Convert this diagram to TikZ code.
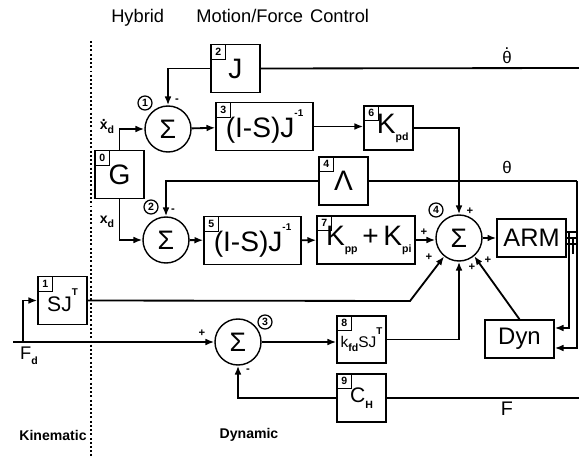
\documentclass[tikz,border=0pt]{standalone}
\usepackage{fontspec}
\setmainfont{Liberation Sans}
\usetikzlibrary{arrows.meta}
\newcommand\pu{0.025cm}
\newcommand\tdot[2]{\ooalign{#2\cr\hidewidth\raisebox{#1}{.}\hidewidth\cr}}
\newcommand\supr[1]{\raisebox{0.55em}{\fontsize{7}{7}\selectfont\bfseries#1}}
\newcommand\subr[1]{\raisebox{-0.25em}{\fontsize{7.5}{8}\selectfont\bfseries#1}}
\tikzset{
  >={Latex[length=2.2mm,width=1.7mm]},
  blk/.style={draw,line width=1pt,inner sep=0pt,minimum width=#1*\pu,minimum height=48*\pu,
    font=\fontsize{20}{20}\selectfont},
  blk/.default=49,
  sumn/.style={circle,draw,line width=1pt,inner sep=0pt,minimum size=46*\pu,
    font=\fontsize{19}{19}\selectfont},
  tagbox/.style={draw,line width=0.8pt,inner sep=0pt,minimum size=15*\pu,anchor=north west,
    font=\fontsize{7.5}{8}\selectfont\bfseries},
  cnum/.style={circle,draw,line width=0.9pt,inner sep=0pt,minimum size=14*\pu,
    font=\fontsize{7.5}{8}\selectfont\bfseries},
  sgn/.style={inner sep=0pt,font=\fontsize{8}{8}\selectfont\bfseries},
  sig/.style={inner sep=0pt,font=\fontsize{12}{12}\selectfont},
  wire/.style={line width=1.3pt},
  dotline/.style={line width=1.4pt,dash pattern=on 1.4pt off 1.6pt},
}
\begin{document}
\begin{tikzpicture}[x=0.025cm,y=-0.025cm]
  \useasboundingbox (0,0) rectangle (579,458);
  % titles
  \node[anchor=west,inner sep=0pt,font=\fontsize{13}{13}\selectfont] (title) at (111,18)
    {Hybrid\hspace{23pt}Motion/Force\hspace{5pt}Control};
  \node[font=\fontsize{10}{10}\selectfont\bfseries] (kin) at (53,435) {Kinematic};
  \node[font=\fontsize{10}{10}\selectfont\bfseries] (dyn) at (249,435) {Dynamic};
  \coordinate (dotT) at (91,41);
  \coordinate (dotB) at (91,458);
  \draw[dotline] (dotT) -- (dotB);

  % blocks
  \node[blk] (J) at (235.5,68.5) {J};
  \node[blk] (G) at (119.5,174.5) {\raisebox{-3pt}{G}};
  \node[blk=97] (IS1) at (264.5,126.5) {\raisebox{-4pt}{(I-S)J}\supr{-1}};
  \node[blk,minimum height=44*\pu] (Kpd) at (388.5,128) {\hspace{6pt}\raisebox{-3pt}{K\subr{pd}}};
  \node[blk] (Lam) at (343.5,181) {\raisebox{-3pt}{Λ}};
  \node[blk=97] (IS2) at (252.5,240.5) {\raisebox{-4pt}{(I-S)J}\supr{-1}};
  \node[blk=98] (Kpp) at (366,240) {\hspace{4pt}\raisebox{-4pt}{K\subr{pp}\,+\,K\subr{pi}}};
  \node[blk=69,minimum height=38*\pu,font=\fontsize{18}{18}\selectfont] (ARM) at (531.5,238) {ARM};
  \node[blk,font=\fontsize{15}{15}\selectfont] (SJ) at (62.5,300.5) {\raisebox{-3pt}{SJ}\supr{T}};
  \node[blk,minimum height=47*\pu,font=\fontsize{11}{11}\selectfont] (kfd) at (361.5,339.5)
    {\raisebox{-3pt}{k\subr{fd}SJ}\supr{T}};
  \node[blk,font=\fontsize{15}{15}\selectfont] (CH) at (361.5,398) {\raisebox{-3pt}{C\subr{H}}};
  \node[blk=69,minimum height=38*\pu,font=\fontsize{17}{17}\selectfont] (Dyn) at (519.5,339) {Dyn};
  \foreach \b/\n in {J/2,G/0,IS1/3,Kpd/6,Lam/4,IS2/5,Kpp/7,SJ/1,kfd/8,CH/9}
    \node[tagbox] (\b-tag) at (\b.north west) {\n};

  % summing junctions
  \node[sumn] (s1) at (168,129) {Σ};
  \node[sumn] (s2) at (166,240) {Σ};
  \node[sumn] (s3) at (238,342) {Σ};
  \node[sumn] (s4) at (459,238) {Σ};
  \foreach \n/\p/\q in {1/145/103,2/151/207,3/265/322,4/436/210}
    \node[cnum] (c\n) at (\p,\q) {\n};
  \foreach \p/\q/\s [count=\i] in {177/101/-,173/211/-,202/333/+,248/371/-,
      470/211/+,424/232/+,429/257/+,472/267/+,488/260/+}
    \node[sgn] (sg\i) at (\p,\q) {\s};

  % signal labels
  \node[sig] (thd) at (507,57) {\tdot{0.78em}{θ}};
  \node[sig] (th) at (507,167) {θ};
  \node[sig,font=\fontsize{14}{14}\selectfont] (F) at (507,409) {F};
  \node[sig,font=\fontsize{13}{13}\selectfont] (Fd) at (29,356) {F\subr{d}};
  \node[sig,font=\fontsize{10}{10}\selectfont\bfseries] (xdd) at (107,128) {\tdot{0.62em}{x}\subr{d}};
  \node[sig,font=\fontsize{10}{10}\selectfont\bfseries] (xd) at (107,222) {x\subr{d}};

  % free ends
  \coordinate (thdR) at (579,68);
  \coordinate (thR) at (577,181);
  \coordinate (FR) at (579,398);
  \coordinate (Fd0) at (13,342);
  \coordinate (br) at (23,342);
  \coordinate (sjk) at (410,301);
  \coordinate (b1) at (569,232);
  \coordinate (b2) at (573,238);
  \coordinate (b3) at (577,244);

  % connectors
  \draw[wire] (J.east) -- (thdR);
  \draw[wire,->] (J.west) -| (s1.north);
  \draw[wire,->] (G.north) |- (s1.west);
  \draw[wire,->] (G.south) |- (s2.west);
  \draw[wire,->] (s1) -- (IS1);
  \draw[wire,->] (IS1.east) -- (IS1.east -| Kpd.west);
  \draw[wire,->] (Kpd.east) -| (s4.north);
  \draw[wire] (thR) -- (Lam.east);
  \draw[wire,->] (Lam.west) -| (s2.north);
  \draw[wire,->] (s2) -- (IS2);
  \draw[wire,->] (IS2) -- (Kpp);
  \draw[wire,->] (Kpp.east) -- (Kpp.east -| s4.west);
  \draw[wire,->] (s4) -- (ARM);
  \draw[wire,->] (Fd0) -- (s3.west);
  \draw[wire,->] (br) |- (SJ.west);
  \draw[wire,->] (SJ.east) -- (sjk) -- (s4.231);
  \draw[wire,->] (s3.east) -- (s3.east -| kfd.west);
  \draw[wire,->] (kfd.east) -| (s4.south);
  \draw[wire,->] (CH.west) -| (s3.south);
  \draw[wire] (CH.east) -- (FR);
  \draw[wire,->] (Dyn.north) -- (s4.310);
  \draw[wire] (ARM.east |- b1) -- (thR |- b1);
  \draw[wire] (ARM.east |- b2) -- (thR |- b2);
  \draw[wire] (ARM.east |- b3) -- (thR |- b3);
  \draw[wire] (b2) -- ++(0,16);
  \draw[wire,->] (b1) |- ([yshift=11*\pu]Dyn.east);
  \draw[wire,->] (thR) |- ([yshift=-9*\pu]Dyn.east);
\end{tikzpicture}
\end{document}
